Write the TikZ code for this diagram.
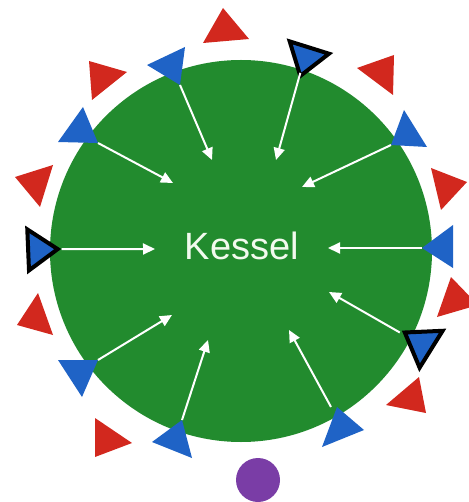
\documentclass[tikz,border=0pt]{standalone}
\usepackage{fontspec}
\setmainfont{Liberation Sans}
\usetikzlibrary{arrows.meta}
\definecolor{kgreen}{RGB}{34,139,46}
\definecolor{kblue}{RGB}{31,99,198}
\definecolor{kred}{RGB}{210,40,30}
\definecolor{kpurple}{RGB}{122,61,166}
\definecolor{ktext}{RGB}{242,250,238}
\tikzset{
  redtri/.style={fill=kred},
  bluetri/.style={fill=kblue},
  marked/.style={fill=kblue, draw=black, line width=4pt, line join=miter},
  flow/.style={draw=white, line width=2pt, -{Triangle[length=12pt,width=11pt]}},
}
\begin{document}
\begin{tikzpicture}[x=1pt,y=-1pt]
\useasboundingbox (0,0) rectangle (468,502);

% boiler body
\node[circle, fill=kgreen, minimum size=382pt, inner sep=0pt] (kessel) at (241,251) {};

% red triangles around the rim
\fill[redtri] (223,8) -- (203,43) -- (249,39) -- cycle;
\fill[redtri] (89,61) -- (127,72) -- (92,100) -- cycle;
\fill[redtri] (15,177) -- (53,165) -- (40,207) -- cycle;
\fill[redtri] (38,293) -- (17,325) -- (53,335) -- cycle;
\fill[redtri] (95,418) -- (132,443) -- (95,457) -- cycle;
\fill[redtri] (419,377) -- (386,405) -- (426,413) -- cycle;
\fill[redtri] (451,277) -- (437,317) -- (478,305) -- cycle;
\fill[redtri] (431,168) -- (467,182) -- (441,210) -- cycle;
\fill[redtri] (357,68) -- (394,55) -- (393,95) -- cycle;

% blue triangles, each with the tip that feeds an arrow
\fill[bluetri] (147,65) -- (185,47) -- (180,85) coordinate (b1) -- cycle;
\fill[bluetri] (83,107) -- (58,142) -- (98,143) coordinate (b2) -- cycle;
\fill[bluetri] (58,360) -- (98,360) coordinate (b4) -- (82,397) -- cycle;
\fill[bluetri] (182,420) coordinate (b5) -- (152,442) -- (192,458) -- cycle;
\fill[bluetri] (322,447) -- (337,407) coordinate (b6) -- (364,430) -- cycle;
\fill[bluetri] (453,225) -- (422,248) coordinate (b8) -- (453,268) -- cycle;
\fill[bluetri] (404,110) -- (391,145) coordinate (b9) -- (427,147) -- cycle;

% outlined blue triangles
\filldraw[marked] (27.3,229.4) -- (57.7,249.1) coordinate (b3) -- (29.0,270.4) -- cycle;
\filldraw[marked] (404.8,332.5) coordinate (b7) -- (442.6,330.8) -- (419.6,367.7) -- cycle;
\filldraw[marked] (289.7,41.4) -- (329,53.7) -- (300.3,75.9) coordinate (b10) -- cycle;

% arrow targets inside the boiler
\coordinate (e1) at (212,160);
\coordinate (e2) at (173,183);
\coordinate (e3) at (155,249);
\coordinate (e4) at (172,315);
\coordinate (e5) at (208,340);
\coordinate (e6) at (289,330);
\coordinate (e7) at (329,292);
\coordinate (e8) at (328,248);
\coordinate (e9) at (302,187);
\coordinate (e10) at (276,160);

% inward flow arrows
\draw[flow] (b1) -- (e1);
\draw[flow] (b2) -- (e2);
\draw[flow] ([xshift=4pt]b3) -- (e3);
\draw[flow] (b4) -- (e4);
\draw[flow] (b5) -- (e5);
\draw[flow] ([xshift=-6pt]b6) -- (e6);
\draw[flow] ([xshift=-5pt]b7) -- (e7);
\draw[flow] (b8) -- (e8);
\draw[flow] (b9) -- (e9);
\draw[flow] ([yshift=3pt]b10) -- (e10);

% label
\node[text=ktext, font=\fontsize{38}{40}\selectfont, inner sep=0pt] (label) at (242,246) {Kessel};

% purple marker below
\node[circle, fill=kpurple, minimum size=44pt, inner sep=0pt] (dot) at (258,480) {};
\end{tikzpicture}
\end{document}
